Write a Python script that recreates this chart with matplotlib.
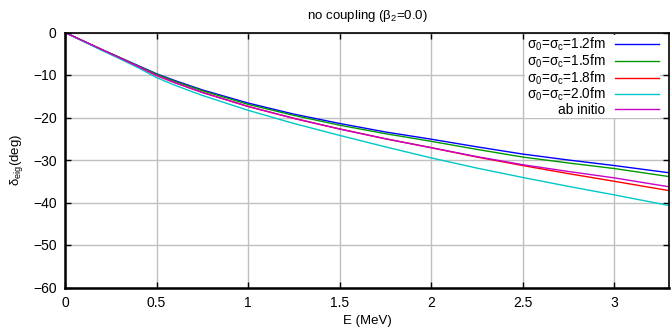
import numpy as np
import matplotlib
matplotlib.use('Agg')
import matplotlib.pyplot as plt

plt.rcParams['font.family'] = ['Liberation Sans', 'DejaVu Sans']
plt.rcParams['mathtext.fontset'] = 'custom'
plt.rcParams['mathtext.rm'] = 'Liberation Sans'
plt.rcParams['mathtext.it'] = 'Liberation Sans'

# energies (MeV) and eigenphases (deg)
E = [0, 0.1, 0.2, 0.3, 0.4, 0.5, 0.6, 0.75, 1.0, 1.25, 1.5, 1.75, 2.0, 2.25, 2.5, 2.75, 3.0, 3.3]
d12 = [0, -2.0, -4.0, -5.9, -7.8, -9.7, -11.3, -13.5, -16.6, -19.2, -21.4, -23.4, -25.1, -26.9, -28.6, -30.0, -31.3, -33.0]
d15 = [0, -2.0, -4.0, -5.9, -7.9, -9.8, -11.5, -13.7, -16.9, -19.5, -21.8, -23.8, -25.6, -27.5, -29.3, -30.7, -32.0, -33.9]
d18 = [0, -2.0, -4.0, -6.0, -8.0, -10.1, -11.8, -14.1, -17.4, -20.2, -22.7, -25.0, -27.1, -29.3, -31.3, -33.2, -35.0, -37.2]
d20 = [0, -2.1, -4.2, -6.2, -8.3, -10.6, -12.4, -14.8, -18.3, -21.4, -24.2, -26.9, -29.5, -31.9, -34.1, -36.2, -38.2, -40.7]
dab = [0, -2.0, -4.0, -6.0, -8.0, -10.1, -11.8, -14.1, -17.4, -20.2, -22.7, -25.0, -27.1, -29.2, -31.1, -32.7, -34.2, -36.3]

labels = [r'$\sigma_0$=$\sigma_c$=1.2fm', r'$\sigma_0$=$\sigma_c$=1.5fm',
          r'$\sigma_0$=$\sigma_c$=1.8fm', r'$\sigma_0$=$\sigma_c$=2.0fm', 'ab initio']
colors = ['#0000ff', '#009900', '#ff0000', '#00c8c8', '#c800c8']

fig = plt.figure(figsize=(6.72, 3.33), dpi=100)
ax = fig.add_axes([65/672, 1-287.5/333, 604/672, 255/333])

for ys, lab, c in zip([d12, d15, d18, d20, dab], labels, colors):
  ax.plot(E, ys, color=c, lw=1.0, label=lab)

ax.set_xlim(0, 3.3)
ax.set_ylim(-60, 0)
ax.set_xticks([0, 0.5, 1, 1.5, 2, 2.5, 3])
ax.set_xticklabels(['0', '0.5', '1', '1.5', '2', '2.5', '3'])
ax.set_yticks([0, -10, -20, -30, -40, -50, -60])
ax.grid(True, color='#c0c0c0', lw=1.0)
ax.set_axisbelow(True)
ax.tick_params(direction='in', top=True, right=True, length=4, labelsize=10, pad=6, width=1)
for s in ['left', 'bottom']:
  ax.spines[s].set_linewidth(1.8)
ax.spines['top'].set_linewidth(1.2)
ax.spines['right'].set_linewidth(1.2)

ax.set_title(r'no coupling ($\beta_2$=0.0)', fontsize=9.5, pad=10)
ax.set_xlabel('E (MeV)', fontsize=9.5, labelpad=4)
ax.set_ylabel(r'$\delta_{eig}$(deg)', fontsize=9.5, labelpad=6)

leg = ax.legend(loc='upper right', bbox_to_anchor=(660/672, 1-34.5/333), bbox_transform=fig.transFigure,
                borderaxespad=0, markerfirst=False, fontsize=9.8, handlelength=3.2,
                handletextpad=0.7, labelspacing=-0.05, frameon=True, fancybox=False, borderpad=0.1)
leg.get_frame().set_facecolor('white')
leg.get_frame().set_edgecolor('none')
leg.get_frame().set_alpha(1.0)

fig.savefig('out.png', dpi=100)
